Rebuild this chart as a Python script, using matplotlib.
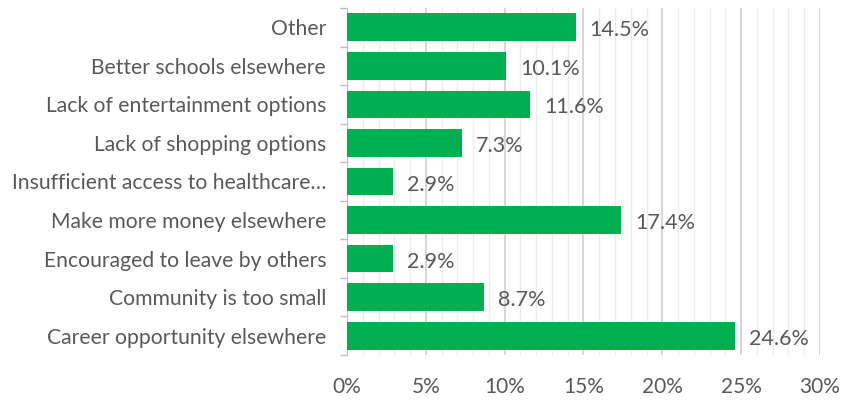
import matplotlib.pyplot as plt
import numpy as np
from matplotlib.ticker import MultipleLocator, FuncFormatter

categories = ["Career opportunity elsewhere", "Community is too small",
              "Encouraged to leave by others", "Make more money elsewhere",
              "Insufficient access to healthcare…", "Lack of shopping options",
              "Lack of entertainment options", "Better schools elsewhere", "Other"]
values = [24.6, 8.7, 2.9, 17.4, 2.9, 7.3, 11.6, 10.1, 14.5]
labels = ["24.6%", "8.7%", "2.9%", "17.4%", "2.9%", "7.3%", "11.6%", "10.1%", "14.5%"]

plt.rcParams['font.family'] = ['Lato', 'DejaVu Sans']
text_color = '#595959'

fig = plt.figure(figsize=(8.43, 4.04), dpi=100)
ax = fig.add_axes([0.4116, 0.1213, 0.5611, 0.8589])

y = np.arange(len(categories))
ax.barh(y, values, height=0.72, color='#00b050', zorder=3)
for yi, v, lab in zip(y, values, labels):
    ax.text(v + 0.9, yi - 0.08, lab, va='center', ha='left', fontsize=15.5, color=text_color)

ax.set_xlim(0, 30)
ax.set_ylim(-0.5, len(categories) - 0.5)
ax.xaxis.set_major_locator(MultipleLocator(5))
ax.xaxis.set_minor_locator(MultipleLocator(1))
ax.xaxis.set_major_formatter(FuncFormatter(lambda v, p: f"{v:.0f}%"))
ax.grid(axis='x', which='major', color='#d0d0d0', linewidth=1.2, zorder=0)
ax.grid(axis='x', which='minor', color='#ececec', linewidth=1.0, zorder=0)
ax.tick_params(axis='x', which='both', length=0, labelsize=15, labelcolor=text_color, pad=16)

ax.set_yticks(y)
ax.set_yticklabels(categories)
ax.set_yticks(np.arange(-0.5, len(categories)), minor=True)
ax.tick_params(axis='y', which='major', length=0, labelsize=15.2, labelcolor=text_color, pad=15)
ax.tick_params(axis='y', which='minor', length=5, color='#bfbfbf', width=1)

for s in ['top', 'right', 'bottom']:
    ax.spines[s].set_visible(False)
ax.spines['left'].set_color('#bfbfbf')

fig.savefig('out.png', dpi=100)
